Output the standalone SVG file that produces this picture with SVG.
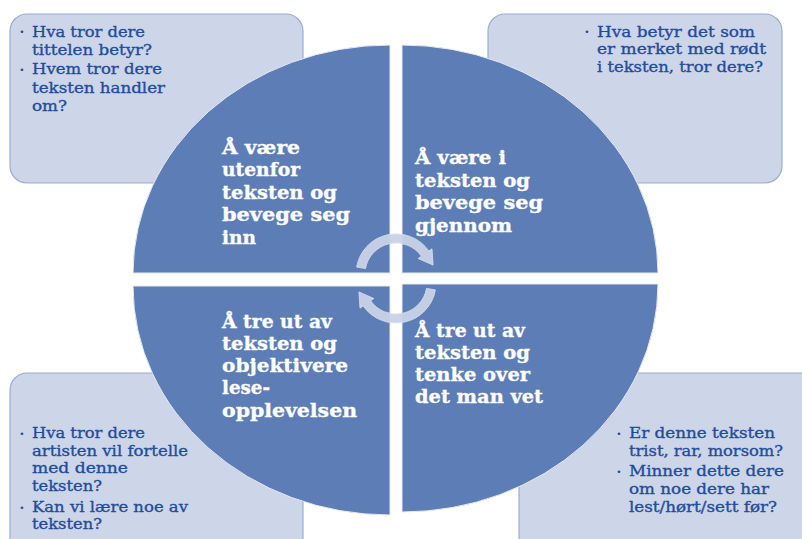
<svg xmlns="http://www.w3.org/2000/svg" width="802" height="539" viewBox="0 0 802 539">
  <style>
    .box { fill: #cdd5e8; stroke: #9aaed4; stroke-width: 1.2; }
    .quad { fill: #5d7db6; stroke: #e6ebf5; stroke-width: 1; }
    .arrow { fill: #c9d3e7; stroke: #dfe5f1; stroke-width: 0.8; opacity: 0.95; }
    .q { font-family: "DejaVu Serif", "Liberation Serif", serif; font-size: 19px; font-weight: bold; fill: #ffffff; stroke: #ffffff; stroke-width: 0.35; }
    .b { font-family: "DejaVu Serif", "Liberation Serif", serif; font-size: 15px; fill: #1f4d9c; stroke: #1f4d9c; stroke-width: 0.35; }
    .dot { font-family: "DejaVu Sans", sans-serif; font-size: 9px; fill: #1f4d9c; text-anchor: middle; }
  </style>
  <rect width="802" height="539" fill="#ffffff"/>

  <!-- question boxes behind the circle -->
  <g id="box-top-left">
    <rect class="box" x="10" y="14" width="293" height="169" rx="17"/>
    <text class="dot" x="22" y="35">•</text>
    <text class="b" x="32" y="36.5" textLength="113" lengthAdjust="spacingAndGlyphs">Hva tror dere</text>
    <text class="b" x="32" y="55" textLength="120" lengthAdjust="spacingAndGlyphs">tittelen betyr?</text>
    <text class="dot" x="22" y="72.5">•</text>
    <text class="b" x="32" y="74" textLength="130" lengthAdjust="spacingAndGlyphs">Hvem tror dere</text>
    <text class="b" x="32" y="92.5" textLength="133" lengthAdjust="spacingAndGlyphs">teksten handler</text>
    <text class="b" x="32" y="111" textLength="35" lengthAdjust="spacingAndGlyphs">om?</text>
  </g>
  <g id="box-top-right">
    <rect class="box" x="488" y="14" width="294" height="169" rx="17"/>
    <text class="dot" x="587" y="35">•</text>
    <text class="b" x="597" y="36.5" textLength="158" lengthAdjust="spacingAndGlyphs">Hva betyr det som</text>
    <text class="b" x="597" y="54" textLength="169" lengthAdjust="spacingAndGlyphs">er merket med rødt</text>
    <text class="b" x="597" y="71.7" textLength="166" lengthAdjust="spacingAndGlyphs">i teksten, tror dere?</text>
  </g>
  <g id="box-bottom-left">
    <rect class="box" x="10" y="373" width="293" height="185" rx="17"/>
    <text class="dot" x="22" y="437">•</text>
    <text class="b" x="32" y="438.3" textLength="113" lengthAdjust="spacingAndGlyphs">Hva tror dere</text>
    <text class="b" x="32" y="456" textLength="156" lengthAdjust="spacingAndGlyphs">artisten vil fortelle</text>
    <text class="b" x="32" y="473.3" textLength="96" lengthAdjust="spacingAndGlyphs">med denne</text>
    <text class="b" x="32" y="490.7" textLength="70" lengthAdjust="spacingAndGlyphs">teksten?</text>
    <text class="dot" x="22" y="510.5">•</text>
    <text class="b" x="32" y="511.7" textLength="156" lengthAdjust="spacingAndGlyphs">Kan vi lære noe av</text>
    <text class="b" x="32" y="529.3" textLength="70" lengthAdjust="spacingAndGlyphs">teksten?</text>
  </g>
  <g id="box-bottom-right">
    <rect class="box" x="519" y="373" width="300" height="185" rx="17"/>
    <text class="dot" x="619" y="437">•</text>
    <text class="b" x="629" y="438.3" textLength="146" lengthAdjust="spacingAndGlyphs">Er denne teksten</text>
    <text class="b" x="629" y="456" textLength="154" lengthAdjust="spacingAndGlyphs">trist, rar, morsom?</text>
    <text class="dot" x="619" y="474.5">•</text>
    <text class="b" x="629" y="476" textLength="155" lengthAdjust="spacingAndGlyphs">Minner dette dere</text>
    <text class="b" x="629" y="494" textLength="140" lengthAdjust="spacingAndGlyphs">om noe dere har</text>
    <text class="b" x="629" y="511.7" textLength="148" lengthAdjust="spacingAndGlyphs">lest/hørt/sett før?</text>
  </g>

  <!-- four quadrants of the reading circle -->
  <g id="quad-top-left">
    <path class="quad" d="M390,273 L133,273 A257,228 0 0 1 390,45 Z"/>
    <text class="q" x="222" y="154" textLength="78" lengthAdjust="spacingAndGlyphs">Å være</text>
    <text class="q" x="222" y="176" textLength="78" lengthAdjust="spacingAndGlyphs">utenfor</text>
    <text class="q" x="222" y="198.5" textLength="115" lengthAdjust="spacingAndGlyphs">teksten og</text>
    <text class="q" x="222" y="221" textLength="128" lengthAdjust="spacingAndGlyphs">bevege seg</text>
    <text class="q" x="222" y="244" textLength="34" lengthAdjust="spacingAndGlyphs">inn</text>
  </g>
  <g id="quad-top-right">
    <path class="quad" d="M402,273 L402,45 A256,228 0 0 1 658,273 Z"/>
    <text class="q" x="415" y="164" textLength="91" lengthAdjust="spacingAndGlyphs">Å være i</text>
    <text class="q" x="415" y="187" textLength="115" lengthAdjust="spacingAndGlyphs">teksten og</text>
    <text class="q" x="415" y="209" textLength="128" lengthAdjust="spacingAndGlyphs">bevege seg</text>
    <text class="q" x="415" y="232" textLength="97" lengthAdjust="spacingAndGlyphs">gjennom</text>
  </g>
  <g id="quad-bottom-left">
    <path class="quad" d="M390,286 L390,515 A257,229 0 0 1 133,286 Z"/>
    <text class="q" x="222" y="328" textLength="110" lengthAdjust="spacingAndGlyphs">Å tre ut av</text>
    <text class="q" x="222" y="350" textLength="115" lengthAdjust="spacingAndGlyphs">teksten og</text>
    <text class="q" x="222" y="372" textLength="126" lengthAdjust="spacingAndGlyphs">objektivere</text>
    <text class="q" x="222" y="394" textLength="48" lengthAdjust="spacingAndGlyphs">lese-</text>
    <text class="q" x="222" y="417" textLength="135" lengthAdjust="spacingAndGlyphs">opplevelsen</text>
  </g>
  <g id="quad-bottom-right">
    <path class="quad" d="M402,284 L658,284 A256,228 0 0 1 402,512 Z"/>
    <text class="q" x="415" y="337" textLength="110" lengthAdjust="spacingAndGlyphs">Å tre ut av</text>
    <text class="q" x="415" y="359" textLength="115" lengthAdjust="spacingAndGlyphs">teksten og</text>
    <text class="q" x="415" y="381" textLength="115" lengthAdjust="spacingAndGlyphs">tenke over</text>
    <text class="q" x="415" y="403" textLength="128" lengthAdjust="spacingAndGlyphs">det man vet</text>
  </g>

  <!-- circular arrows in the centre -->
  <g id="connectors">
    <path class="arrow" d="M356.6,267.05 A40,40 0 0 1 428.8,251.0 L432.0,248.8 L433.1,265.1 L418.1,258.5 L421.4,256.2 A31,31 0 0 0 365.5,268.6 Z"/>
    <path class="arrow" d="M435.4,289.9 A40,40 0 0 1 363.2,305.9 L360.0,308.2 L358.9,291.9 L373.9,298.5 L370.6,300.8 A31,31 0 0 0 426.5,288.4 Z"/>
  </g>
</svg>
